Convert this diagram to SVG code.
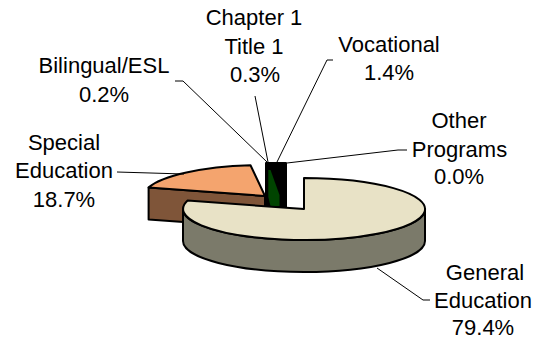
<svg xmlns="http://www.w3.org/2000/svg" width="546" height="340" viewBox="0 0 546 340">
<style>
.lbl{font-family:"Liberation Sans",Arial,sans-serif;font-size:22px;fill:#000;text-anchor:middle}
.edge{stroke:#000;stroke-width:2;stroke-linejoin:round}
.lead{fill:none;stroke:#000;stroke-width:1}
</style>
<rect width="546" height="340" fill="#fff"/>
<g id="special-education">
<polygon class="edge" points="265,196 148.6,187.5 148.6,219.5 265,228" fill="#7F5539"/>
<path class="edge" d="M265 196 L148.6 187.5 A121 31 0 0 1 250.5 165.2 Z" fill="#F4A46E"/>
</g>
<g id="bilingual-esl">
<polygon class="edge" points="265,197 267,199 268,207 266,207" fill="#fff" stroke-width="1"/>
</g>
<g id="vocational">
<polygon class="edge" points="266,163 286,163 286,207 266,207" fill="#000"/>
</g>
<g id="chapter1-title1">
<polygon points="268.3,170 270.5,170 279.5,195 279.5,206 270.5,206 268.3,197" fill="#004400"/>
</g>
<g id="general-education">
<path class="edge" d="M425 209 L425 241 A121 31 0 0 1 183 241 L183 209 A121 31 0 0 0 425 209 Z" fill="#7B7A6A"/>
<path class="edge" d="M304 209 L304 178 A121 31 0 1 1 187.6 200.6 Z" fill="#E8E2C6"/>
</g>
<g id="connectors">
<polyline class="lead" points="175,81 183,81 267,162"/>
<polyline class="lead" points="255,96 268,162"/>
<polyline class="lead" points="333,60 327,60 277,162"/>
<polyline class="lead" points="287,163 398,150 407,150"/>
<polyline class="lead" points="117,172 184,174"/>
<polyline class="lead" points="377,268 423,300 430,300"/>
</g>
<g id="labels">
<text class="lbl" x="254" y="25">Chapter 1</text>
<text class="lbl" x="254" y="53.5">Title 1</text>
<text class="lbl" x="255" y="81.7">0.3%</text>
<text class="lbl" x="389" y="52">Vocational</text>
<text class="lbl" x="389" y="80">1.4%</text>
<text class="lbl" x="104" y="73.3">Bilingual/ESL</text>
<text class="lbl" x="104" y="101.7">0.2%</text>
<text class="lbl" x="64" y="150">Special</text>
<text class="lbl" x="64" y="178.3">Education</text>
<text class="lbl" x="64" y="206.7">18.7%</text>
<text class="lbl" x="459" y="128.3">Other</text>
<text class="lbl" x="459.5" y="156.7">Programs</text>
<text class="lbl" x="459" y="184">0.0%</text>
<text class="lbl" x="485" y="280">General</text>
<text class="lbl" x="483" y="308.3">Education</text>
<text class="lbl" x="483" y="335">79.4%</text>
</g>
</svg>
